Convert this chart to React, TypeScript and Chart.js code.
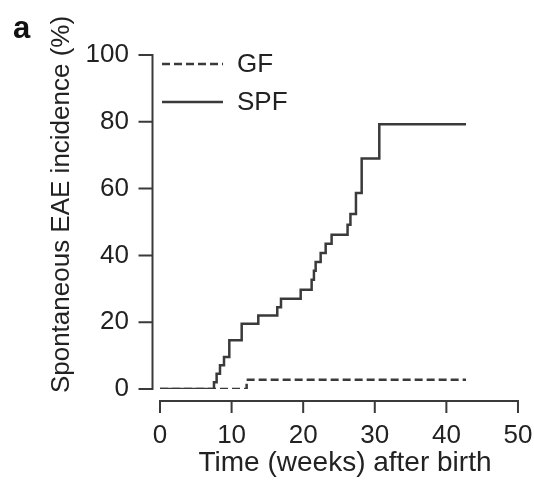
import React, { useEffect, useRef } from "react";
import { Chart, registerables } from "chart.js";

Chart.register(...registerables);

// ---- data ----
const spfWeeks = [0, 7.54, 7.91, 8.38, 8.94, 9.68, 11.41, 13.73, 16.38, 16.9, 19.65, 21.18, 21.5, 21.74, 22.44, 23.14, 23.97, 26.2, 26.6, 27.37, 28.17, 30.63, 42.74];
const spfIncidence = [0, 2.0, 4.6, 7.1, 9.6, 14.6, 19.5, 22.0, 24.5, 27.0, 29.7, 32.7, 35.4, 38.0, 40.7, 43.5, 46.2, 49.2, 52.4, 58.7, 69.0, 79.3, 79.3];
const gfWeeks = [0, 12.1, 42.74];
const gfIncidence = [0, 2.8, 2.8];
const xTickValues = [0, 10, 20, 30, 40, 50];
const yTickValues = [0, 20, 40, 60, 80, 100];
const seriesNames = ["GF", "SPF"];
const xTitle = "Time (weeks) after birth";
const yTitle = "Spontaneous EAE incidence (%)";
const panelLabel = "a";

const FONT = "'Liberation Sans', Arial, Helvetica, sans-serif";
const INK = "#222";
const LINE = "#3a3a3a";

const axesPlugin = {
  id: "offsetAxes",
  afterDraw(chart: any) {
    const { ctx } = chart;
    const xs = chart.scales.x;
    const ys = chart.scales.y;
    ctx.save();
    ctx.strokeStyle = LINE;
    ctx.lineWidth = 2;
    ctx.setLineDash([]);
    // y axis (offset left)
    const ax = 152.5;
    const yTop = ys.getPixelForValue(yTickValues[yTickValues.length - 1]);
    const yBot = ys.getPixelForValue(yTickValues[0]);
    ctx.beginPath();
    ctx.moveTo(ax, yTop);
    ctx.lineTo(ax, yBot);
    yTickValues.forEach((v) => {
      const p = ys.getPixelForValue(v);
      ctx.moveTo(ax - 14, p);
      ctx.lineTo(ax + 1, p);
    });
    ctx.stroke();
    // x axis (offset below)
    const ay = 401;
    const xL = xs.getPixelForValue(xTickValues[0]);
    const xR = xs.getPixelForValue(xTickValues[xTickValues.length - 1]);
    ctx.beginPath();
    ctx.moveTo(xL, ay);
    ctx.lineTo(xR, ay);
    xTickValues.forEach((v) => {
      const p = xs.getPixelForValue(v);
      ctx.moveTo(p, ay - 1);
      ctx.lineTo(p, ay + 12);
    });
    ctx.stroke();

    // legend
    const items = chart.data.datasets;
    const lx0 = 162, lx1 = 223, tx = 237;
    const rows = [64, 102];
    items.forEach((ds: any, i: number) => {
      const yy = rows[i];
      ctx.beginPath();
      ctx.strokeStyle = ds.borderColor;
      ctx.lineWidth = ds.borderWidth;
      ctx.setLineDash(ds.borderDash || []);
      ctx.moveTo(lx0, yy);
      ctx.lineTo(lx1, yy);
      ctx.stroke();
      ctx.setLineDash([]);
      ctx.fillStyle = INK;
      ctx.font = `26px ${FONT}`;
      ctx.textAlign = "left";
      ctx.textBaseline = "middle";
      ctx.fillText(ds.label, tx, yy + 1);
    });

    // panel label
    ctx.fillStyle = "#111";
    ctx.font = `bold 31px ${FONT}`;
    ctx.textAlign = "left";
    ctx.textBaseline = "alphabetic";
    ctx.fillText(panelLabel, 13, 38);
    ctx.restore();
  },
};

export default function App() {
  const ref = useRef<HTMLCanvasElement | null>(null);
  useEffect(() => {
    if (!ref.current) return;
    const chart = new Chart(ref.current, {
      type: "line",
      data: {
        datasets: [
          {
            label: seriesNames[0],
            data: gfWeeks.map((x, i) => ({ x, y: gfIncidence[i] })),
            borderColor: LINE,
            borderWidth: 2.5,
            borderDash: [8, 4],
            pointRadius: 0,
            stepped: true,
            fill: false,
          },
          {
            label: seriesNames[1],
            data: spfWeeks.map((x, i) => ({ x, y: spfIncidence[i] })),
            borderColor: LINE,
            borderWidth: 2.5,
            pointRadius: 0,
            stepped: true,
            fill: false,
          },
        ],
      },
      options: {
        animation: false,
        responsive: false,
        devicePixelRatio: 1,
        layout: { padding: { left: 0, top: 20, right: 4, bottom: 0 } },
        plugins: { legend: { display: false }, tooltip: { enabled: false } },
        scales: {
          x: {
            type: "linear",
            min: 0,
            max: 51.68,
            grid: { display: false, drawTicks: false },
            border: { display: false },
            afterBuildTicks: (s: any) => {
              s.ticks = xTickValues.map((v) => ({ value: v }));
            },
            afterFit: (s: any) => {
              s.height = 95;
              s.paddingLeft = 0;
              s.paddingRight = 0;
            },
            ticks: {
              padding: 31,
              color: INK,
              font: { size: 26, family: FONT },
              maxRotation: 0,
            },
            title: {
              display: true,
              text: xTitle,
              color: INK,
              font: { size: 28, family: FONT },
              padding: { top: 0, bottom: 4 },
            },
          },
          y: {
            type: "linear",
            min: 0,
            max: 110.48,
            grid: { display: false, drawTicks: false },
            border: { display: false },
            afterBuildTicks: (s: any) => {
              s.ticks = yTickValues.map((v) => ({ value: v }));
            },
            afterFit: (s: any) => {
              s.width = 160;
              s.paddingTop = 0;
              s.paddingBottom = 0;
            },
            ticks: {
              padding: 31,
              color: INK,
              font: { size: 26, family: FONT },
            },
            title: {
              display: true,
              text: yTitle,
              color: INK,
              font: { size: 26, family: FONT },
              padding: { top: 46, bottom: 0 },
            },
          },
        },
      },
      plugins: [axesPlugin],
    });
    return () => chart.destroy();
  }, []);
  return (
    <div style={{ position: "absolute", left: 0, top: 0, width: 534, height: 484, background: "#fff" }}>
      <canvas ref={ref} width={534} height={484} style={{ display: "block" }} />
    </div>
  );
}
